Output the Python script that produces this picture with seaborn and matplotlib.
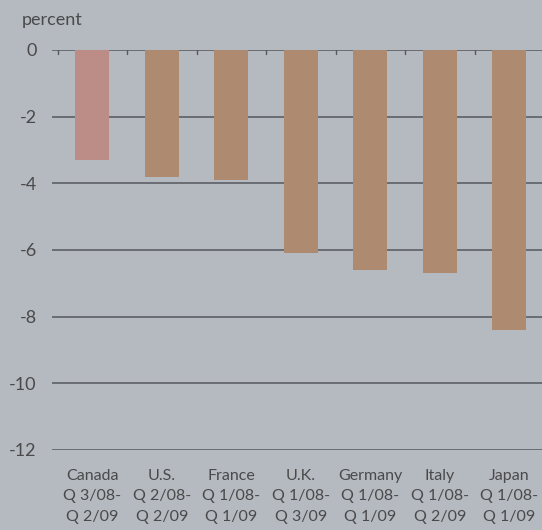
import matplotlib
matplotlib.use("Agg")
import matplotlib.pyplot as plt
import seaborn as sns
import pandas as pd
import numpy as np

countries = ["Canada", "U.S.", "France", "U.K.", "Germany", "Italy", "Japan"]
periods = ["Q 3/08-\nQ 2/09", "Q 2/08-\nQ 2/09", "Q 1/08-\nQ 1/09", "Q 1/08-\nQ 3/09",
           "Q 1/08-\nQ 1/09", "Q 1/08-\nQ 2/09", "Q 1/08-\nQ 1/09"]
values = [-3.3, -3.8, -3.9, -6.1, -6.6, -6.7, -8.4]
yticks = [0, -2, -4, -6, -8, -10, -12]

labels = [f"{c}\n{p}" for c, p in zip(countries, periods)]
df = pd.DataFrame({"label": labels, "value": values})

bg = "#b5b9c0"
sns.set_theme(style="white")
plt.rcParams["font.family"] = ["Lato", "DejaVu Sans"]

fig = plt.figure(figsize=(5.42, 5.30), dpi=100, facecolor=bg)
ax = fig.add_axes([52/542, 1-450/530, 1-52/542, 400/530])
ax.set_facecolor(bg)

palette = ["#bc8c86"] + ["#ae8b70"] * 6
sns.barplot(data=df, x="label", y="value", hue="label", palette=palette,
            legend=False, width=0.49, ax=ax, saturation=1, linewidth=0)

ax.set_ylim(-12, 0)
ax.set_xlim(-0.58, 6.47)
ax.set_yticks(yticks)
ax.set_yticklabels([str(v) for v in yticks], fontsize=13, color="#4a4a4a")
for y in yticks:
    ax.axhline(y, color="#55585e", lw=1.1, zorder=0)
for s in ax.spines.values():
    s.set_visible(False)
ax.tick_params(axis="y", length=0, pad=11)
ax.tick_params(axis="x", length=0, pad=14)
ax.set_xticks(range(len(labels)))
ax.set_xticklabels(labels, fontsize=11.5, color="#4a4a4a", linespacing=1.55)
ax.set_xlabel("")
ax.set_ylabel("")

# small boundary ticks on the zero line
for b in np.arange(-0.5, 6.0, 1.0):
    ax.plot([b, b], [0, -0.12], color="#55585e", lw=1, zorder=1)

fig.text(22/542, 1-20/530, "percent", fontsize=13, color="#4a4a4a", va="center", ha="left")

fig.savefig("out.png", dpi=100, facecolor=bg)
